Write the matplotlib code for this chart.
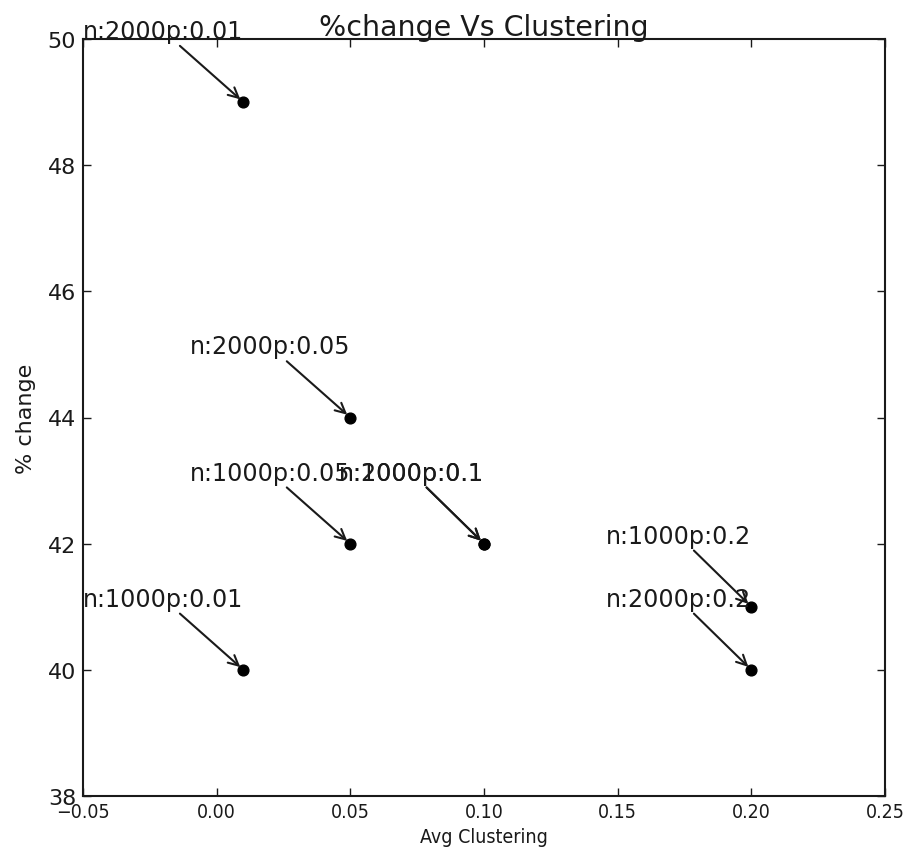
import matplotlib
matplotlib.use("Agg")
import matplotlib.pyplot as plt

# ---- data ----
labels = ["n:1000p:0.01", "n:2000p:0.01", "n:1000p:0.05", "n:2000p:0.05",
          "n:1000p:0.1", "n:2000p:0.1", "n:1000p:0.2", "n:2000p:0.2"]
clustering = [0.01, 0.01, 0.05, 0.05, 0.1, 0.1, 0.2, 0.2]
pct_change = [40, 49, 42, 44, 42, 42, 41, 40]
xticks = [-0.05, 0.00, 0.05, 0.10, 0.15, 0.20, 0.25]
xticklabels = ["\u22120.05", "0.00", "0.05", "0.10", "0.15", "0.20", "0.25"]
yticks = [38, 40, 42, 44, 46, 48, 50]

fig = plt.figure(figsize=(9.18, 8.54), dpi=100)
ax = fig.add_axes([83/918, 1-797/854, (885-83)/918, (797-40)/854])

ax.scatter(clustering, pct_change, s=60, color="black", zorder=3)

for lab, x, y in zip(labels, clustering, pct_change):
    ax.annotate(lab, xy=(x, y), xytext=(0, 59), textcoords="offset pixels",
                ha="right", va="bottom", fontsize=17.2, family="DejaVu Sans",
                color="#1a1a1a",
                arrowprops=dict(arrowstyle="->", color="#1a1a1a", lw=1.5,
                                shrinkA=0, shrinkB=3, mutation_scale=18))

ax.set_xlim(-0.05, 0.25)
ax.set_ylim(38, 50)
ax.set_xticks(xticks)
ax.set_xticklabels(xticklabels, family="DejaVu Sans", fontstretch="condensed",
                   fontsize=14)
ax.set_yticks(yticks)
ax.set_yticklabels([str(v) for v in yticks], family="DejaVu Sans", fontsize=16)
ax.tick_params(direction="in", length=6, width=1, top=True, right=True,
               colors="#1a1a1a")
ax.tick_params(axis="x", pad=4)
ax.tick_params(axis="y", pad=5)
for sp in ax.spines.values():
    sp.set_linewidth(1.5)
    sp.set_color("#1a1a1a")

ax.set_xlabel("Avg Clustering", family="DejaVu Sans", fontstretch="condensed",
              fontsize=14, color="#1a1a1a", labelpad=5)
ax.set_ylabel("% change", family="DejaVu Sans", fontsize=16, color="#1a1a1a", labelpad=8)
ax.set_title("%change Vs Clustering", family="DejaVu Sans", fontsize=20.5,
             color="#1a1a1a", pad=3)

fig.savefig("out.png", dpi=100, facecolor="white")
